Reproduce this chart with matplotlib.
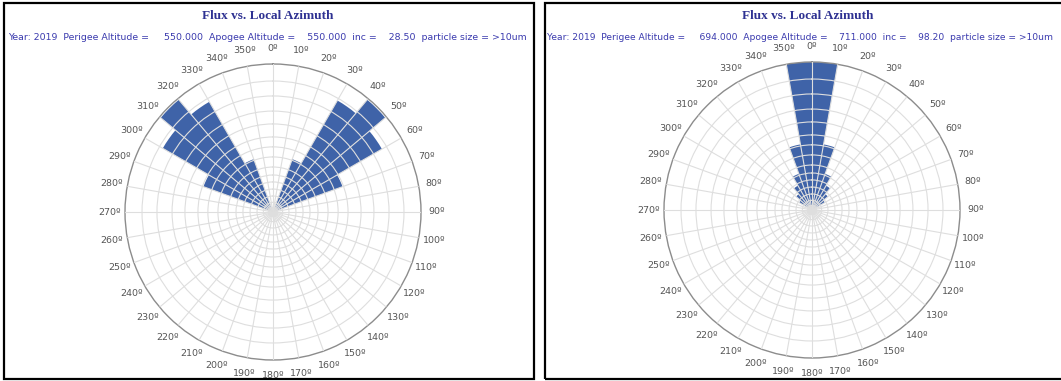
import numpy as np
import matplotlib
matplotlib.use("Agg")
import matplotlib.pyplot as plt
from matplotlib.patches import Rectangle

# azimuth bins (deg, start of 10 deg bin) and relative flux (fraction of outer ring)
az_left = [290, 300, 310, 320, 330, 20, 30, 40, 50, 60]
flux_left = [0.50, 0.86, 0.99, 0.86, 0.38, 0.38, 0.87, 0.99, 0.85, 0.50]

az_right = [350, 0, 340, 10, 330, 20, 320, 30, 310, 40, 300, 50]
flux_right = [1.0, 1.0, 0.45, 0.45, 0.26, 0.26, 0.19, 0.19, 0.14, 0.14, 0.10, 0.10]

subtitle_left = "Year: 2019  Perigee Altitude =     550.000  Apogee Altitude =    550.000  inc =    28.50  particle size = >10um"
subtitle_right = "Year: 2019  Perigee Altitude =     694.000  Apogee Altitude =    711.000  inc =    98.20  particle size = >10um"
title = "Flux vs. Local Azimuth"

# radial grid rings (not evenly spaced in the original)
rings = [0.03, 0.065, 0.108, 0.155, 0.203, 0.25, 0.304, 0.372, 0.44, 0.507,
         0.595, 0.682, 0.784, 0.885]

W, H = 1061, 381
BAR = "#3F63A8"
GRID = "#dedede"

fig = plt.figure(figsize=(W / 100, H / 100), dpi=100)


def polar_panel(cx, cy, az, flux):
    r = 148
    ax = fig.add_axes([(cx - r) / W, (H - cy - r) / H, 2 * r / W, 2 * r / H],
                      projection="polar")
    ax.set_theta_zero_location("N")
    ax.set_theta_direction(-1)
    theta = np.deg2rad(np.array(az) + 5)
    ax.bar(theta, flux, width=np.deg2rad(10), color=BAR, edgecolor="none",
           align="center", zorder=1)
    ax.set_ylim(0, 1)
    ax.set_yticks(rings)
    ax.set_yticklabels([])
    ax.set_xticks(np.deg2rad(np.arange(0, 360, 10)))
    ax.set_xticklabels([])
    ax.set_axisbelow(False)
    ax.grid(True, color=GRID, lw=0.8)
    ax.spines["polar"].set_color("#8c8c8c")
    ax.spines["polar"].set_linewidth(1.0)
    for a in range(0, 360, 10):
        ax.text(np.deg2rad(a), 1.105, f"{a}º", ha="center", va="center",
                fontsize=6.8, color="#555555", clip_on=False)
    return ax


polar_panel(273, 212, az_left, flux_left)
polar_panel(812, 210, az_right, flux_right)

# panel frames
fig.patches.append(Rectangle((4 / W, 2 / H), 530 / W, 376 / H, fill=False,
                             lw=1.6, edgecolor="black", transform=fig.transFigure))
fig.patches.append(Rectangle((545 / W, 2 / H), 530 / W, 376 / H, fill=False,
                             lw=1.6, edgecolor="black", transform=fig.transFigure))

for x0, xc, sub, fs in [(8, 268, subtitle_left, 6.75), (547, 808, subtitle_right, 6.62)]:
    fig.text(xc / W, 1 - 16 / H, title, ha="center", va="center",
             family="Liberation Serif", weight="bold", fontsize=9.5, color="#2E3192")
    fig.text(x0 / W, 1 - 37 / H, sub, ha="left", va="center",
             fontsize=fs, color="#3A3AAE")

fig.savefig("out.png", dpi=100)
